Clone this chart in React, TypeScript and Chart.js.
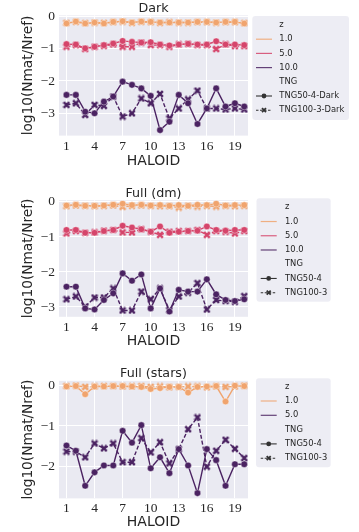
import React, { useEffect, useRef } from "react";
import { Chart, registerables } from "chart.js";

Chart.register(...registerables);

// ---------------- data ----------------
const HALOID = [1, 2, 3, 4, 5, 6, 7, 8, 9, 10, 11, 12, 13, 14, 15, 16, 17, 18, 19, 20];
const X_TICKS = [1, 4, 7, 10, 13, 16, 19];
const Y_TICKS_DARK = [0, -1, -2, -3];
const Y_TICKS_DM = [0, -1, -2, -3];
const Y_TICKS_STARS = [0, -1, -2];

// Dark
const DARK_Z1_TNG50 = [-0.22, -0.16, -0.22, -0.19, -0.22, -0.17, -0.15, -0.19, -0.16, -0.17, -0.19, -0.19, -0.19, -0.19, -0.17, -0.17, -0.19, -0.17, -0.17, -0.22];
const DARK_Z1_TNG100 = [-0.2, -0.17, -0.21, -0.19, -0.2, -0.18, -0.16, -0.2, -0.17, -0.18, -0.2, -0.18, -0.19, -0.19, -0.18, -0.18, -0.19, -0.18, -0.18, -0.21];
const DARK_Z5_TNG50 = [-0.86, -0.87, -0.99, -0.94, -0.89, -0.84, -0.76, -0.79, -0.81, -0.8, -0.87, -0.9, -0.87, -0.85, -0.87, -0.87, -0.77, -0.87, -0.87, -0.89];
const DARK_Z5_TNG100 = [-0.94, -0.89, -1.01, -0.94, -0.91, -0.87, -0.94, -0.94, -0.81, -0.89, -0.89, -0.94, -0.87, -0.85, -0.89, -0.89, -1.01, -0.87, -0.92, -0.92];
const DARK_Z10_TNG50 = [-2.43, -2.43, -2.95, -3.0, -2.64, -2.48, -2.02, -2.12, -2.23, -2.46, -3.52, -3.26, -2.43, -2.69, -3.33, -2.85, -2.23, -2.79, -2.69, -2.79];
const DARK_Z10_TNG100 = [-2.74, -2.69, -3.05, -2.74, -2.77, -2.48, -3.1, -3.0, -2.54, -2.69, -2.4, -3.16, -2.85, -2.57, -2.3, -2.85, -2.85, -2.88, -2.85, -2.88];

// Full (dm)
const DM_Z1_TNG50 = [-0.1, -0.08, -0.11, -0.11, -0.1, -0.08, -0.05, -0.09, -0.08, -0.1, -0.09, -0.11, -0.09, -0.11, -0.08, -0.09, -0.05, -0.1, -0.09, -0.09];
const DM_Z1_TNG100 = [-0.12, -0.1, -0.11, -0.12, -0.11, -0.1, -0.14, -0.11, -0.1, -0.11, -0.12, -0.12, -0.16, -0.11, -0.13, -0.11, -0.13, -0.11, -0.12, -0.11];
const DM_Z5_TNG50 = [-0.8, -0.8, -0.88, -0.88, -0.83, -0.8, -0.68, -0.73, -0.78, -0.85, -0.7, -0.88, -0.85, -0.83, -0.82, -0.7, -0.8, -0.82, -0.8, -0.8];
const DM_Z5_TNG100 = [-0.9, -0.83, -0.88, -0.87, -0.82, -0.8, -0.87, -0.87, -0.78, -0.85, -0.94, -0.85, -0.83, -0.83, -0.8, -0.94, -0.83, -0.85, -0.9, -0.83];
const DM_Z10_TNG50 = [-2.42, -2.42, -3.04, -3.07, -2.8, -2.61, -2.04, -2.25, -2.07, -3.04, -2.47, -3.13, -2.51, -2.56, -2.56, -2.21, -2.64, -2.8, -2.83, -2.78];
const DM_Z10_TNG100 = [-2.78, -2.7, -2.99, -2.73, -2.73, -2.47, -3.1, -3.1, -2.56, -2.78, -2.47, -3.09, -2.7, -2.59, -2.32, -3.07, -2.8, -2.83, -2.85, -2.69];

// Full (stars)
const ST_Z1_TNG50 = [-0.03, -0.02, -0.22, -0.03, -0.03, -0.02, -0.02, -0.03, -0.04, -0.09, -0.07, -0.04, -0.04, -0.18, -0.04, -0.03, -0.02, -0.4, -0.01, -0.02];
const ST_Z1_TNG100 = [-0.02, -0.01, -0.04, -0.03, -0.02, -0.02, -0.03, -0.03, -0.02, -0.04, -0.03, -0.05, -0.04, -0.03, -0.03, -0.05, -0.03, -0.04, -0.03, -0.01];
const ST_Z5_TNG50 = [-1.48, -1.61, -2.47, -2.14, -1.97, -1.97, -1.12, -1.41, -0.98, -2.04, -1.77, -2.16, -1.57, -1.97, -2.65, -1.57, -1.84, -2.47, -1.94, -1.94];
const ST_Z5_TNG100 = [-1.63, -1.63, -1.77, -1.43, -1.55, -1.43, -1.89, -1.89, -1.3, -1.65, -1.4, -1.92, -1.57, -1.08, -0.79, -2.0, -1.61, -1.34, -1.56, -1.79];

// ---------------- styles ----------------
const C_ORANGE = "#F0A46E";
const C_PINK = "#D5456B";
const C_PURPLE = "#4B2362";
const C_AXBG = "#EAEAF2";
const C_TEXT = "#262626";
const C_HANDLE = "#333333";
const SANS = "'DejaVu Sans', sans-serif";
const SERIF = "'Liberation Serif', serif";

function makeX(color: string, size: number, lw: number) {
  const c = document.createElement("canvas");
  c.width = size;
  c.height = size;
  const g = c.getContext("2d")!;
  g.strokeStyle = color;
  g.lineWidth = lw;
  g.lineCap = "butt";
  const a = lw / 2;
  g.beginPath();
  g.moveTo(a, a);
  g.lineTo(size - a, size - a);
  g.moveTo(size - a, a);
  g.lineTo(a, size - a);
  g.stroke();
  return c;
}

type Series = { color: string; tng50: number[]; tng100: number[] };

const PANELS = [
  {
    title: "Dark",
    top: 0,
    height: 178,
    titlePad: { top: 2.7, bottom: 0 },
    xScaleH: 42.4,
    xTitlePadBottom: 7.9,
    yMin: -3.69,
    yMax: 0.03,
    yTicks: Y_TICKS_DARK,
    series: [
      { color: C_ORANGE, tng50: DARK_Z1_TNG50, tng100: DARK_Z1_TNG100 },
      { color: C_PINK, tng50: DARK_Z5_TNG50, tng100: DARK_Z5_TNG100 },
      { color: C_PURPLE, tng50: DARK_Z10_TNG50, tng100: DARK_Z10_TNG100 },
    ] as Series[],
    zLabels: ["1.0", "5.0", "10.0"],
    zColors: [C_ORANGE, C_PINK, C_PURPLE],
    tngLabels: ["TNG50-4-Dark", "TNG100-3-Dark"],
    legend: { bx: 252.3, by: 16, bw: 96.7, bh: 104, y0: 25, step: 14.2, h0: 256, h1: 272, tx: 279.3 },
  },
  {
    title: "Full (dm)",
    top: 178,
    height: 180,
    titlePad: { top: 9.5, bottom: 0 },
    xScaleH: 41.2,
    xTitlePadBottom: 7.8,
    yMin: -3.28,
    yMax: 0.05,
    yTicks: Y_TICKS_DM,
    series: [
      { color: C_ORANGE, tng50: DM_Z1_TNG50, tng100: DM_Z1_TNG100 },
      { color: C_PINK, tng50: DM_Z5_TNG50, tng100: DM_Z5_TNG100 },
      { color: C_PURPLE, tng50: DM_Z10_TNG50, tng100: DM_Z10_TNG100 },
    ] as Series[],
    zLabels: ["1.0", "5.0", "10.0"],
    zColors: [C_ORANGE, C_PINK, C_PURPLE],
    tngLabels: ["TNG50-4", "TNG100-3"],
    legend: { bx: 256.5, by: 20.3, bw: 74.2, bh: 103.4, y0: 29.3, step: 14.23, h0: 260.7, h1: 276.7, tx: 285 },
  },
  {
    title: "Full (stars)",
    top: 358,
    height: 174,
    titlePad: { top: 9.15, bottom: 0.95 },
    xScaleH: 33.6,
    xTitlePadBottom: 1.3,
    yMin: -2.78,
    yMax: 0.11,
    yTicks: Y_TICKS_STARS,
    series: [
      { color: C_ORANGE, tng50: ST_Z1_TNG50, tng100: ST_Z1_TNG100 },
      { color: C_PURPLE, tng50: ST_Z5_TNG50, tng100: ST_Z5_TNG100 },
    ] as Series[],
    zLabels: ["1.0", "5.0"],
    zColors: [C_ORANGE, C_PURPLE],
    tngLabels: ["TNG50-4", "TNG100-3"],
    legend: { bx: 256, by: 20.3, bw: 74.7, bh: 89, y0: 28.7, step: 14.3, h0: 260.7, h1: 276.7, tx: 285 },
  },
];

const bgPlugin = {
  id: "axBg",
  beforeDraw(chart: any) {
    const { ctx, chartArea } = chart;
    ctx.save();
    ctx.fillStyle = C_AXBG;
    ctx.fillRect(chartArea.left, chartArea.top, chartArea.right - chartArea.left, chartArea.bottom - chartArea.top);
    ctx.restore();
  },
};

function makeLegendPlugin(panel: (typeof PANELS)[number]) {
  return {
    id: "zLegend",
    afterDraw(chart: any) {
      const ctx: CanvasRenderingContext2D = chart.ctx;
      const L = panel.legend;
      ctx.save();
      ctx.fillStyle = "rgba(234,234,242,0.85)";
      ctx.beginPath();
      (ctx as any).roundRect(L.bx, L.by, L.bw, L.bh, 3);
      ctx.fill();
      ctx.font = `8.4px ${SANS}`;
      ctx.textBaseline = "middle";
      ctx.textAlign = "left";
      let row = 0;
      const text = (s: string) => {
        ctx.fillStyle = C_TEXT;
        ctx.fillText(s, L.tx, L.y0 + row * L.step);
      };
      text("z");
      row++;
      panel.zLabels.forEach((lab, i) => {
        const y = L.y0 + row * L.step;
        ctx.strokeStyle = panel.zColors[i];
        ctx.globalAlpha = 0.85;
        ctx.lineWidth = 1.2;
        ctx.setLineDash([]);
        ctx.beginPath();
        ctx.moveTo(L.h0, y);
        ctx.lineTo(L.h1, y);
        ctx.stroke();
        ctx.globalAlpha = 1;
        text(lab);
        row++;
      });
      text("TNG");
      row++;
      panel.tngLabels.forEach((lab, i) => {
        const y = L.y0 + row * L.step;
        const cx = (L.h0 + L.h1) / 2;
        ctx.strokeStyle = C_HANDLE;
        ctx.lineWidth = 1.1;
        ctx.setLineDash(i === 0 ? [] : [2.5, 1.5]);
        ctx.beginPath();
        ctx.moveTo(L.h0, y);
        ctx.lineTo(L.h1, y);
        ctx.stroke();
        ctx.setLineDash([]);
        ctx.fillStyle = C_HANDLE;
        if (i === 0) {
          ctx.beginPath();
          ctx.arc(cx, y, 2.4, 0, Math.PI * 2);
          ctx.fill();
        } else {
          ctx.lineWidth = 1.8;
          ctx.beginPath();
          ctx.moveTo(cx - 2, y - 2);
          ctx.lineTo(cx + 2, y + 2);
          ctx.moveTo(cx + 2, y - 2);
          ctx.lineTo(cx - 2, y + 2);
          ctx.stroke();
        }
        text(lab);
        row++;
      });
      ctx.restore();
    },
  };
}

function Panel({ panel }: { panel: (typeof PANELS)[number] }) {
  const ref = useRef<HTMLCanvasElement | null>(null);
  useEffect(() => {
    if (!ref.current) return;
    const datasets: any[] = [];
    panel.series.forEach((s) => {
      const xMarker = makeX(s.color, 8, 2.4);
      datasets.push({
        label: "TNG50",
        data: HALOID.map((x, i) => ({ x, y: s.tng50[i] })),
        borderColor: s.color,
        backgroundColor: s.color,
        borderWidth: 1.4,
        pointStyle: "circle",
        pointRadius: 3.3,
        pointBorderColor: "#ffffff",
        pointBorderWidth: 0.4,
        pointBackgroundColor: s.color,
        tension: 0,
      });
      datasets.push({
        label: "TNG100",
        data: HALOID.map((x, i) => ({ x, y: s.tng100[i] })),
        borderColor: s.color,
        backgroundColor: s.color,
        borderWidth: 1.4,
        borderDash: [4, 2],
        pointStyle: xMarker,
        pointRadius: 4,
        tension: 0,
      });
    });

    const chart = new Chart(ref.current, {
      type: "line",
      data: { datasets },
      plugins: [bgPlugin, makeLegendPlugin(panel)],
      options: {
        animation: false,
        responsive: false,
        maintainAspectRatio: false,
        layout: { padding: { left: 0, right: 111, top: 0, bottom: 0 } },
        plugins: {
          legend: { display: false },
          tooltip: { enabled: false },
          title: {
            display: true,
            text: panel.title,
            fullSize: false,
            color: C_TEXT,
            font: { family: SANS, size: 12.7, weight: "normal", lineHeight: 1.0 },
            padding: panel.titlePad,
          },
        },
        scales: {
          x: {
            type: "linear",
            min: 0.2,
            max: 20.4,
            afterBuildTicks: (sc: any) => {
              sc.ticks = X_TICKS.map((v) => ({ value: v }));
            },
            afterFit: (sc: any) => {
              sc.height = panel.xScaleH;
            },
            ticks: {
              autoSkip: false,
              maxRotation: 0,
              padding: 2.3,
              color: C_TEXT,
              font: { family: SERIF, size: 13.5 },
              callback: (v: any) => String(v),
            },
            grid: { color: "#ffffff", lineWidth: 1, drawTicks: false },
            border: { display: false },
            title: {
              display: true,
              text: "HALOID",
              color: C_TEXT,
              font: { family: SANS, size: 14, lineHeight: 1.2 },
              padding: { top: 0, bottom: panel.xTitlePadBottom },
            },
          },
          y: {
            type: "linear",
            min: panel.yMin,
            max: panel.yMax,
            afterBuildTicks: (sc: any) => {
              sc.ticks = panel.yTicks.map((v) => ({ value: v }));
            },
            afterFit: (sc: any) => {
              sc.width = 59;
            },
            ticks: {
              padding: 4,
              color: C_TEXT,
              font: { family: SERIF, size: 13.5 },
              callback: (v: any) => String(v).replace("-", "\u2212"),
            },
            grid: { color: "#ffffff", lineWidth: 1, drawTicks: false },
            border: { display: false },
            title: {
              display: true,
              text: "log10(Nmat/Nref)",
              color: C_TEXT,
              font: { family: SANS, size: 13.7, lineHeight: 1.2 },
              padding: { top: 20.3, bottom: 0 },
            },
          },
        },
      } as any,
    });
    return () => chart.destroy();
  }, [panel]);
  return (
    <div style={{ position: "absolute", left: 0, top: panel.top, width: 359, height: panel.height }}>
      <canvas ref={ref} width={359} height={panel.height} style={{ display: "block" }} />
    </div>
  );
}

export default function App() {
  useEffect(() => {
    document.body.style.margin = "0";
    document.body.style.background = "#ffffff";
  }, []);
  return (
    <div style={{ position: "relative", width: 359, height: 532, overflow: "hidden", background: "#ffffff" }}>
      {PANELS.map((p) => (
        <Panel key={p.title} panel={p} />
      ))}
    </div>
  );
}
